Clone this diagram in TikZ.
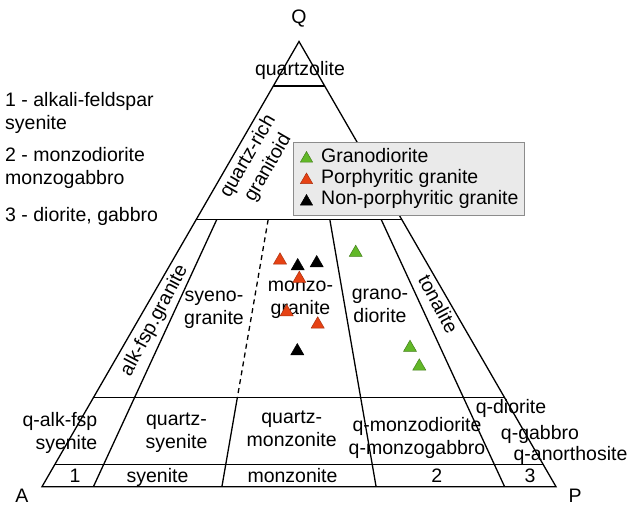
\documentclass[tikz,border=0pt]{standalone}
\usepackage{fontspec}
\setmainfont{Liberation Sans}
\usetikzlibrary{calc,shapes.geometric}
\definecolor{grgreen}{RGB}{98,184,40}
\definecolor{grred}{RGB}{230,66,20}
\definecolor{leggray}{RGB}{234,234,234}
\definecolor{legborder}{RGB}{140,140,140}
\begin{document}
\begin{tikzpicture}[x=1pt,y=-1pt,
  ln/.style={line width=1.3pt, black},
  dashln/.style={line width=1.3pt, black, dash pattern=on 5pt off 4pt},
  lab/.style={font=\fontsize{19.5}{23}\selectfont, inner sep=0pt, align=center,
    execute at begin node=\strut, execute at end node=\strut},
  mk/.style={regular polygon, regular polygon sides=3, minimum size=15pt, inner sep=0pt, line width=0.5pt},
  gmk/.style={mk, fill=grgreen, draw=grgreen!70!black},
  rmk/.style={mk, fill=grred, draw=grred!75!black},
  kmk/.style={mk, fill=black, draw=black},
  legbox/.style={draw=legborder, fill=leggray, line width=1pt, inner sep=0pt, anchor=north west}
]
\useasboundingbox (0,0) rectangle (629,508);
\fill[white] (0,0) rectangle (629,508);

% corners
\coordinate (Q) at (299,41.5);
\coordinate (A) at (42,486.7);
\coordinate (P) at (556,486.7);
\foreach \r/\n in {0.1/b10,0.35/b35,0.65/b65,0.9/b90}{
  \coordinate (\n) at ($(A)!\r!(P)$);
  \coordinate (\n-top) at ($(Q)!0.4!(\n)$);
  \coordinate (\n-mid) at ($(Q)!0.8!(\n)$);
}
\foreach \t/\n in {0.1/h90,0.4/h60,0.8/h20,0.95/h5}{
  \coordinate (\n-L) at ($(Q)!\t!(A)$);
  \coordinate (\n-R) at ($(Q)!\t!(P)$);
}

% frame and fields
\draw[ln] (A) -- (P) -- (Q) -- cycle;
\draw[ln] (h90-L) -- (h90-R);
\draw[ln] (h60-L) -- (h60-R);
\draw[ln] (h20-L) -- (h20-R);
\draw[ln] (h5-L) -- (h5-R);
\draw[ln] (b10-top) -- (b10);
\draw[dashln] (b35-top) -- (b35-mid);
\draw[ln] (b35-mid) -- (b35);
\draw[ln] (b65-top) -- (b65);
\draw[ln] (b90-top) -- (b90);

% apex labels
\node[lab] (lQ) at (299,19) {Q};
\node[lab] (lA) at (22,498) {A};
\node[lab] (lP) at (575,498) {P};

% field names
\node[lab] (qzl) at (300,71) {quartzolite};
\node[lab, rotate=60] (qrg) at (259.5,163) {quartz-rich\\granitoid};
\node[lab, rotate=62] (afg) at (155,321) {alk-fsp.granite};
\node[lab] (syg) at (214,311) {syeno-\\granite};
\node[lab] (mzg) at (300.5,301.5) {monzo-\\granite};
\node[lab] (grd) at (380,309) {grano-\\diorite};
\node[lab, rotate=-62] (ton) at (436.5,305) {tonalite};

\node[lab, align=right, anchor=east] (qafs) at (97.5,434) {q-alk-fsp\\syenite};
\node[lab] (qsy) at (176.5,434) {quartz-\\syenite};
\node[lab] (qmz) at (291.7,432) {quartz-\\monzonite};
\node[lab] (qmd) at (417,439) {q-monzodiorite\\q-monzogabbro};
\node[lab] (qdi) at (511,409) {q-diorite};
\node[lab] (qgb) at (540,434.5) {q-gabbro};
\node[lab] (qan) at (570.5,456) {q-anorthosite};

\node[lab] (r1) at (75,477.5) {1};
\node[lab] (rsy) at (157.5,477.5) {syenite};
\node[lab] (rmz) at (292.5,477.5) {monzonite};
\node[lab] (r2) at (436.7,477.5) {2};
\node[lab] (r3) at (530,477.5) {3};

% side notes
\node[lab, align=left, anchor=west] (n1) at (5,114) {1 - alkali-feldspar\\syenite};
\node[lab, align=left, anchor=west] (n2) at (5,169) {2 - monzodiorite\\monzogabbro};
\node[lab, anchor=west] (n3) at (5,217) {3 - diorite, gabbro};

% legend
\node[legbox, minimum width=231pt, minimum height=73.3pt] (leg) at (293.3,141.7) {};
\node[gmk, minimum size=14pt] (lg1) at (306.5,158.5) {};
\node[rmk, minimum size=14pt] (lg2) at (306.5,180) {};
\node[kmk, minimum size=14pt] (lg3) at (306.5,201.5) {};
\node[lab, anchor=west] (lt1) at (321,157.5) {Granodiorite};
\node[lab, anchor=west] (lt2) at (321,178.5) {Porphyritic granite};
\node[lab, anchor=west] (lt3) at (321,199.5) {Non-porphyritic granite};

% data
\node[rmk] (p1) at (280,260.3) {};
\node[kmk] (p2) at (297.7,266) {};
\node[kmk] (p3) at (316.7,263) {};
\node[rmk] (p4) at (299.3,278.7) {};
\node[rmk] (p5) at (286.7,312) {};
\node[rmk] (p6) at (317.7,324.3) {};
\node[kmk] (p7) at (297.3,351) {};
\node[gmk] (p8) at (355.7,252.7) {};
\node[gmk] (p9) at (410,347.7) {};
\node[gmk] (p10) at (419.3,366.3) {};
\end{tikzpicture}
\end{document}
